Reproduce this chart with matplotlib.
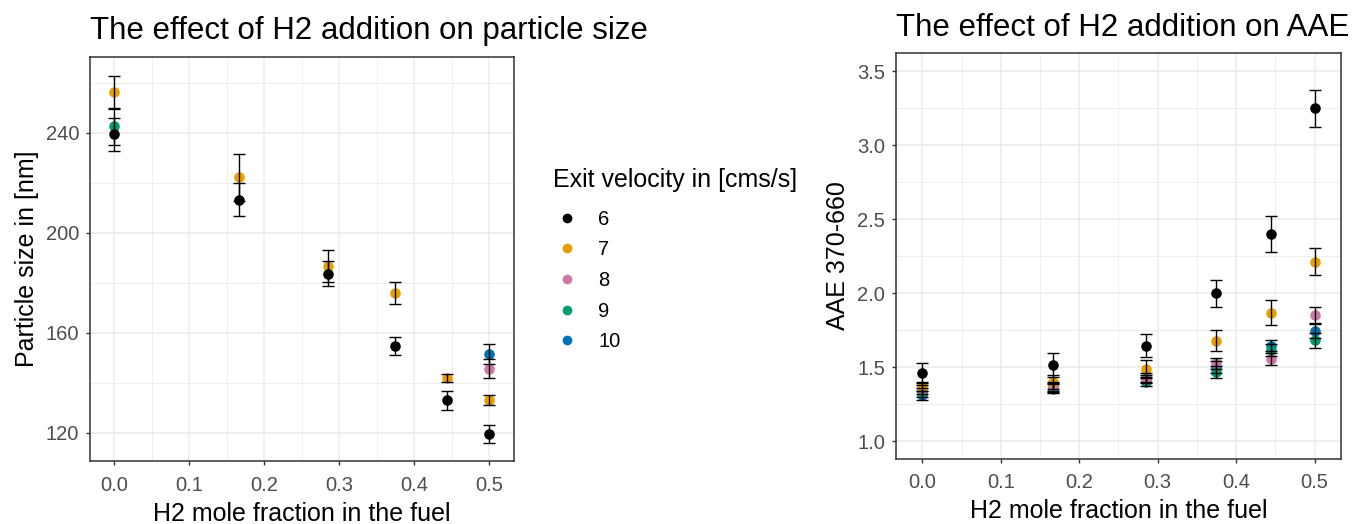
import numpy as np
import matplotlib
matplotlib.use("Agg")
import matplotlib.pyplot as plt
from matplotlib.lines import Line2D

plt.rcParams['font.family'] = ['Liberation Sans', 'DejaVu Sans']

# ---- data ----
h2_fraction = [0.0, 1/6, 2/7, 3/8, 4/9, 1/2]
velocities = ["6", "7", "8", "9", "10"]
colors = ["#000000", "#E69F00", "#CC79A7", "#009E73", "#0072B2"]

nan = np.nan
size_v6 = [239.5, 213.3, 183.8, 154.8, 133.2, 119.7]
size_v6_err = [6.5, 6.6, 5.0, 3.4, 3.8, 3.6]
size_v7 = [256.4, 222.4, 186.9, 176.0, 142.1, 133.2]
size_v7_err = [6.6, 9.4, 6.3, 4.4, 1.7, 1.9]
size_v8 = [nan, nan, nan, nan, nan, 145.8]
size_v8_err = [nan, nan, nan, nan, nan, 3.8]
size_v9 = [242.8, nan, nan, nan, nan, nan]
size_v9_err = [7.4, nan, nan, nan, nan, nan]
size_v10 = [nan, nan, nan, nan, nan, 151.5]
size_v10_err = [nan, nan, nan, nan, nan, 4.0]

aae_v6 = [1.461, 1.513, 1.646, 1.999, 2.40, 3.25]
aae_v6_err = [0.07, 0.08, 0.075, 0.09, 0.12, 0.125]
aae_v7 = [1.37, 1.40, 1.49, 1.68, 1.867, 2.213]
aae_v7_err = [0.03, 0.05, 0.057, 0.07, 0.085, 0.093]
aae_v8 = [1.35, 1.37, 1.42, 1.525, 1.556, 1.849]
aae_v8_err = [0.03, 0.03, 0.03, 0.04, 0.04, 0.056]
aae_v9 = [1.33, 1.355, 1.40, 1.47, 1.614, 1.682]
aae_v9_err = [0.03, 0.03, 0.03, 0.04, 0.04, 0.05]
aae_v10 = [1.31, 1.36, 1.43, 1.50, 1.646, 1.745]
aae_v10_err = [0.03, 0.03, 0.03, 0.04, 0.04, 0.05]

size_series = [(size_v6, size_v6_err), (size_v7, size_v7_err), (size_v8, size_v8_err),
               (size_v9, size_v9_err), (size_v10, size_v10_err)]
aae_series = [(aae_v6, aae_v6_err), (aae_v7, aae_v7_err), (aae_v8, aae_v8_err),
              (aae_v9, aae_v9_err), (aae_v10, aae_v10_err)]

W, H = 1356, 524
fig = plt.figure(figsize=(W/100, H/100), dpi=100)

def px_axes(x0, y0, x1, y1):
    return fig.add_axes([x0/W, 1 - y1/H, (x1-x0)/W, (y1-y0)/H])

ax1 = px_axes(90, 56.5, 513.5, 461)
ax2 = px_axes(896, 53, 1341, 458.5)

def style(ax, xlim, ylim, yticks, yminor, title, ylabel):
    ax.set_xlim(*xlim)
    ax.set_ylim(*ylim)
    ax.set_xticks([0.0, 0.1, 0.2, 0.3, 0.4, 0.5])
    ax.set_xticklabels(["0.0", "0.1", "0.2", "0.3", "0.4", "0.5"])
    ax.set_xticks([0.05, 0.15, 0.25, 0.35, 0.45], minor=True)
    ax.set_yticks(yticks)
    ax.set_yticks(yminor, minor=True)
    ax.grid(True, which='major', color='#EBEBEB', linewidth=1.1, zorder=0)
    ax.grid(True, which='minor', color='#EBEBEB', linewidth=0.6, zorder=0)
    ax.set_axisbelow(True)
    for s in ax.spines.values():
        s.set_color('#333333')
        s.set_linewidth(1.1)
    ax.tick_params(which='major', length=2.75, width=1.0, color='#333333',
                   labelsize=14.5, labelcolor='#4D4D4D')
    ax.tick_params(axis='x', which='major', pad=8.0)
    ax.tick_params(axis='y', which='major', pad=5.0)
    ax.tick_params(which='minor', length=0)
    ax.set_xlabel("H2 mole fraction in the fuel", fontsize=18, labelpad=5.0)
    ax.set_ylabel(ylabel, fontsize=18, labelpad=5)
    ax.set_title(title, fontsize=22.5, loc='left', pad=12.5)

def draw(ax, series):
    for i in reversed(range(len(series))):
        vals, errs = series[i]
        ax.plot(h2_fraction, vals, 'o', color=colors[i], markersize=7.6,
                markeredgewidth=0, zorder=3)
    for i in range(len(series)):
        vals, errs = series[i]
        ax.errorbar(h2_fraction, vals, yerr=errs, fmt='none', ecolor='#000000',
                    elinewidth=1.0, capsize=4.3, capthick=1.0, zorder=4)

draw(ax1, size_series)
style(ax1, (-0.0325, 0.5327), (108.8, 270.6), [120, 160, 200, 240], [140, 180, 220, 260],
      "The effect of H2 addition on particle size", "Particle size in [nm]")

draw(ax2, aae_series)
style(ax2, (-0.0335, 0.5337), (0.883, 3.622), [1.0, 1.5, 2.0, 2.5, 3.0, 3.5],
      [1.25, 1.75, 2.25, 2.75, 3.25], "The effect of H2 addition on AAE", "AAE 370-660")
ax2.set_yticklabels(["1.0", "1.5", "2.0", "2.5", "3.0", "3.5"])

handles = [Line2D([], [], marker='o', linestyle='none', color=c, markersize=7.0,
                  markeredgewidth=0) for c in colors]
leg = fig.legend(handles, velocities, title="Exit velocity in [cms/s]",
                 loc='upper left', bbox_to_anchor=(535/W, 1 - 150/H),
                 frameon=False, fontsize=14.5, title_fontsize=18,
                 handletextpad=0.85, labelspacing=0.58, handlelength=1.4)
leg._legend_box.align = "left"
leg._legend_box.sep = 12.7

fig.savefig("out.png", dpi=100)
